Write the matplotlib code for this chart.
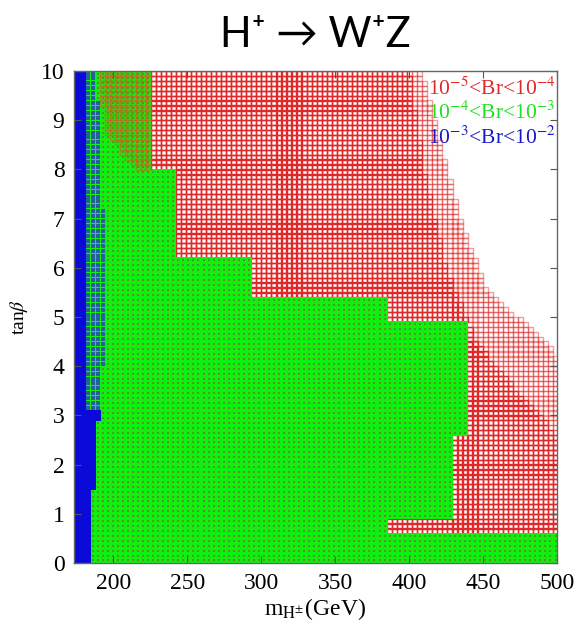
import numpy as np
import matplotlib.pyplot as plt

plt.rcParams['font.family'] = ['Liberation Serif', 'DejaVu Serif']
plt.rcParams['mathtext.fontset'] = 'stix'

# scan grid of the parameter space
mass_min, mass_max, mass_step = 176.0, 500.0, 3.4
tanb_min, tanb_max, tanb_step = 0.05, 10.0, 0.1

# blue band (10^-3 < Br < 10^-2): right edge vs tan(beta)
blue_tb = [0.0, 0.9, 2.1, 3.05, 3.1, 10.0]
blue_edge = [184.0, 184.5, 188.0, 190.0, 182.0, 181.0]
# blue/green transition zone
mix_tb = [3.1, 4.1, 7.2, 9.2, 10.0]
mix_edge = [190.0, 193.5, 193.0, 191.0, 186.5]
# green region (10^-4 < Br < 10^-3): step edges, lower tan(beta) of each step
green_tb = [0.0, 0.63, 0.93, 2.64, 4.94, 5.45, 6.16, 8.05]
green_edge = [500.0, 384.0, 431.0, 440.0, 386.0, 292.0, 244.0, 227.0]
# green points overlapped by red ones (top left corner)
overlap_tb = [8.0, 8.8, 10.0]
overlap_start = [215.0, 195.0, 190.0]
# red region (10^-5 < Br < 10^-4): outer edge (white beyond)
red_tb = [4.2, 4.4, 5.6, 6.8, 8.2, 10.0]
red_edge = [500.0, 495.0, 452.0, 436.0, 424.0, 409.0]
# where the red points get sparse / pale
pale_tb = [0.0, 2.6, 3.6, 4.5, 6.0, 8.0, 10.0]
pale_edge = [500.0, 500.0, 470.0, 445.0, 425.0, 410.0, 400.0]

labels = [r'10$^{-5}$<Br<10$^{-4}$', r'10$^{-4}$<Br<10$^{-3}$', r'10$^{-3}$<Br<10$^{-2}$']
RED = '#e02828'
GREEN = '#10f010'
BLUE = '#0a0ad8'

mass = np.arange(mass_min, mass_max + 0.01, mass_step)
tanb = np.arange(tanb_min, tanb_max, tanb_step)
M, T = np.meshgrid(mass, tanb)
m = M.ravel()
t = T.ravel()

idx = np.searchsorted(green_tb, t, side='right') - 1
green_lim = np.array(green_edge)[idx]
blue_lim = np.interp(t, blue_tb, blue_edge)
mix_lim = np.interp(t, mix_tb, mix_edge)
red_lim = np.interp(t, red_tb, red_edge)
pale_lim = np.interp(t, pale_tb, pale_edge)
over_lim = np.interp(t, overlap_tb, overlap_start, left=1e9)

is_blue = m <= blue_lim
is_green = (~is_blue) & (m <= green_lim)
is_mix = is_green & (t > 3.1) & (m <= mix_lim)
is_over = is_green & (m >= over_lim)
is_red = (~is_blue) & (~is_green) & (m <= red_lim)
is_pale = is_red & (m > pale_lim)
is_dense = is_red & ~is_pale

fig = plt.figure(figsize=(5.79, 6.29), dpi=100)
ax = fig.add_axes([0.128, 0.105, 0.834, 0.782])

ax.scatter(m[is_dense], t[is_dense], marker='s', s=14, facecolors='none',
           edgecolors=RED, linewidths=1.0)
ax.scatter(m[is_pale], t[is_pale], marker='s', s=14, facecolors='none',
           edgecolors=RED, linewidths=1.0, alpha=0.45)
ax.scatter(m[is_green], t[is_green], marker='s', s=17, c=GREEN, linewidths=0)
ax.scatter(m[is_green], t[is_green], marker='s', s=2, c='#6a7a28', linewidths=0, alpha=0.75)
ax.scatter(m[is_over], t[is_over], marker='s', s=14, facecolors='none',
           edgecolors='#d06020', linewidths=1.0, alpha=0.55)
ax.scatter(m[is_mix], t[is_mix], marker='s', s=8, c='#2a4ab8', linewidths=0, alpha=0.85)
ax.scatter(m[is_blue], t[is_blue], marker='s', s=17, c=BLUE, linewidths=0)

ax.set_xlim(173.5, 500)
ax.set_ylim(0, 10)
ax.set_xticks([200, 250, 300, 350, 400, 450, 500])
ax.set_yticks(range(0, 11))
ax.tick_params(direction='in', top=True, right=True, length=5, width=0.8,
               labelsize=17, pad=7, color='#555555')
for sp in ax.spines.values():
    sp.set_color('#666666')
    sp.set_linewidth(1.0)

ax.set_xlabel(r'm$_{\mathrm{H}^{\pm}}$(GeV)', fontsize=17, labelpad=2)
ax.set_ylabel(r'tan$\beta$', fontsize=14, labelpad=8)

for i, (lab, col) in enumerate(zip(labels, [RED, '#20e020', '#1818c8'])):
    ax.text(0.997, 0.965 - i * 0.05, lab, color=col, fontsize=15.5,
            ha='right', va='center', transform=ax.transAxes)

fig.text(0.545, 0.945, 'H\u207a \u2192 W\u207aZ', fontsize=30, ha='center', va='center',
         family=['Lato', 'DejaVu Sans'])

fig.savefig('out.png', dpi=100)
